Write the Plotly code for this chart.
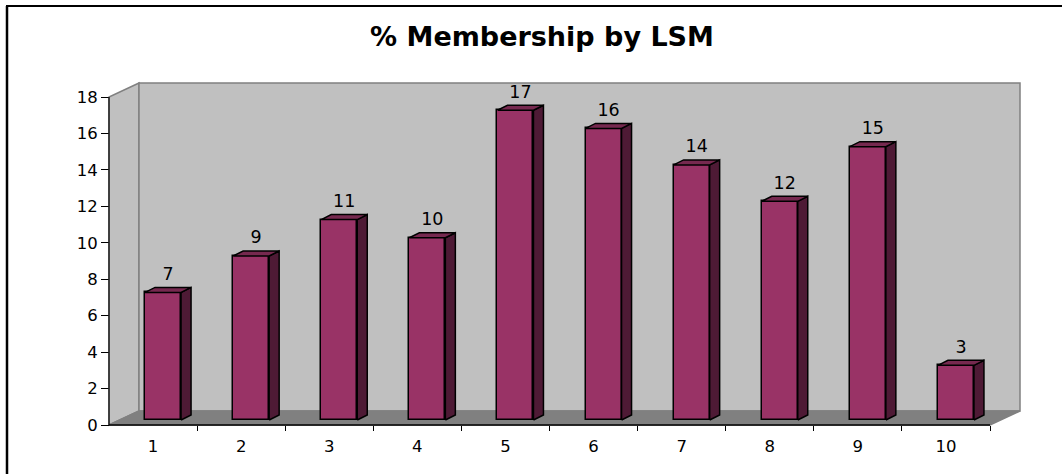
import plotly.graph_objects as go

# ---- data ----
categories = [1, 2, 3, 4, 5, 6, 7, 8, 9, 10]
cat_labels = ["1", "2", "3", "4", "5", "6", "7", "8", "9", "10"]
membership = [7, 9, 11, 10, 17, 16, 14, 12, 15, 3]
y_ticks = [0, 2, 4, 6, 8, 10, 12, 14, 16, 18]

# ---- geometry (pixel based pseudo-3D) ----
W, H = 1062, 474
PL, PR, PT, PB = 100, 1035, 75, 435       # plot area in px
X0PX, Y0PX = 109, 425                     # px position of x=0.5, y=0
PXX = 88.1                                # px per category
PXY = 328 / 18                            # px per y unit

def ux(px):
    return px / PXX

def uy(px):
    return px / PXY

WALL_DX, WALL_DY = ux(30), uy(14)
BAR_OX, BAR_OY = ux(10), uy(5)
BAR_DX, BAR_DY = ux(10), uy(5)
BAR_W = ux(36)
YMAX = 18
XMIN, XMAX = 0.5, 10.5

FRONT = "#993366"
SIDE = "#4E1A35"
TOP = "#76294F"
WALL = "#C0C0C0"
FLOOR = "#808080"
FONT = "DejaVu Sans, Liberation Sans, sans-serif"

fig = go.Figure()

# front faces
fig.add_trace(go.Bar(
    x=[c + BAR_OX for c in categories], y=membership, base=BAR_OY,
    width=BAR_W, marker=dict(color=FRONT, line=dict(color="black", width=1.5)),
    hoverinfo="skip", showlegend=False))

# side faces and top faces
sx, sy, tx, ty = [], [], [], []
for c, v in zip(categories, membership):
    xl = c + BAR_OX - BAR_W / 2
    xr = c + BAR_OX + BAR_W / 2
    b = BAR_OY
    t = v + BAR_OY
    sx += [xr, xr + BAR_DX, xr + BAR_DX, xr, xr, None]
    sy += [b, b + BAR_DY, t + BAR_DY, t, b, None]
    tx += [xl, xr, xr + BAR_DX, xl + BAR_DX, xl, None]
    ty += [t, t, t + BAR_DY, t + BAR_DY, t, None]
fig.add_trace(go.Scatter(x=sx, y=sy, fill="toself", fillcolor=SIDE, mode="lines",
                         line=dict(color="black", width=1.5), hoverinfo="skip", showlegend=False))
fig.add_trace(go.Scatter(x=tx, y=ty, fill="toself", fillcolor=TOP, mode="lines",
                         line=dict(color="black", width=1.5), hoverinfo="skip", showlegend=False))

# data labels
fig.add_trace(go.Scatter(
    x=[c + BAR_OX + ux(5) for c in categories],
    y=[v + BAR_OY + uy(17) for v in membership],
    text=[str(v) for v in membership], mode="text", textposition="middle center",
    textfont=dict(family=FONT, size=17.5, color="black"), cliponaxis=False,
    hoverinfo="skip", showlegend=False))

# dummy trace for tick axis
fig.add_trace(go.Scatter(x=[1], y=[0], xaxis="x2", mode="markers",
                         marker=dict(opacity=0), hoverinfo="skip", showlegend=False))

# walls / floor as shapes below
shapes = []
left_wall = f"M {XMIN},0 L {XMIN+WALL_DX},{WALL_DY} L {XMIN+WALL_DX},{YMAX+WALL_DY} L {XMIN},{YMAX} Z"
back_wall = (f"M {XMIN+WALL_DX},{WALL_DY} L {XMAX+WALL_DX},{WALL_DY} "
             f"L {XMAX+WALL_DX},{YMAX+WALL_DY} L {XMIN+WALL_DX},{YMAX+WALL_DY} Z")
floor = f"M {XMIN},0 L {XMIN+WALL_DX},{WALL_DY} L {XMAX+WALL_DX},{WALL_DY} L {XMAX},0 Z"
for p, fc in [(left_wall, WALL), (back_wall, WALL), (floor, FLOOR)]:
    shapes.append(dict(type="path", path=p, xref="x", yref="y", fillcolor=fc,
                       line=dict(color="#808080", width=1.5), layer="below"))
# axis lines
shapes.append(dict(type="line", xref="x", yref="y", x0=XMIN, y0=0, x1=XMIN, y1=YMAX,
                   line=dict(color="#222222", width=1.5), layer="above"))
shapes.append(dict(type="line", xref="x", yref="y", x0=XMIN, y0=0, x1=XMAX, y1=0,
                   line=dict(color="black", width=1.5), layer="above"))

# outer frame (left and top)
def px2paper_x(px):
    return (px - PL) / (PR - PL)

def px2paper_y(py):
    return (PB - py) / (PB - PT)

shapes.append(dict(type="line", xref="paper", yref="paper",
                   x0=px2paper_x(7), y0=px2paper_y(6), x1=px2paper_x(7), y1=px2paper_y(480),
                   line=dict(color="black", width=2.5)))
shapes.append(dict(type="line", xref="paper", yref="paper",
                   x0=px2paper_x(6), y0=px2paper_y(6), x1=px2paper_x(1070), y1=px2paper_y(6),
                   line=dict(color="black", width=2)))

xr = [XMIN - ux(X0PX - PL), XMIN + ux(PR - X0PX)]
yr = [-uy(PB - Y0PX), uy(Y0PX - PT)]

fig.update_layout(
    width=W, height=H,
    margin=dict(l=PL, r=W - PR, t=PT, b=H - PB),
    paper_bgcolor="white", plot_bgcolor="white",
    font=dict(family=FONT, color="black"),
    title=dict(text="<b>% Membership by LSM</b>", x=542 / W, xref="container", xanchor="center",
               y=1 - 37 / H, yref="container", yanchor="middle",
               font=dict(family=FONT, size=27, color="black")),
    shapes=shapes,
    showlegend=False,
    bargap=0,
    xaxis=dict(range=xr, anchor="free", position=(PB - Y0PX) / (PB - PT),
               tickmode="array", tickvals=categories, ticktext=cat_labels,
               ticks="outside", ticklen=6, tickcolor="rgba(0,0,0,0)",
               showline=False, showgrid=False, zeroline=False,
               tickfont=dict(family=FONT, size=16.5, color="black")),
    xaxis2=dict(overlaying="x", matches="x", anchor="free", position=(PB - Y0PX) / (PB - PT),
                tickmode="array", tickvals=[c + 0.5 for c in categories],
                ticks="outside", ticklen=5, tickcolor="black", tickwidth=1,
                showticklabels=False, showline=False, showgrid=False, zeroline=False),
    yaxis=dict(range=yr, anchor="free", position=(X0PX - PL) / (PR - PL),
               tickmode="array", tickvals=y_ticks,
               ticks="outside", ticklen=8, tickcolor="black", tickwidth=1,
               showline=False, showgrid=False, zeroline=False,
               tickfont=dict(family=FONT, size=16.5, color="black")),
)

fig.write_html("out.html")
